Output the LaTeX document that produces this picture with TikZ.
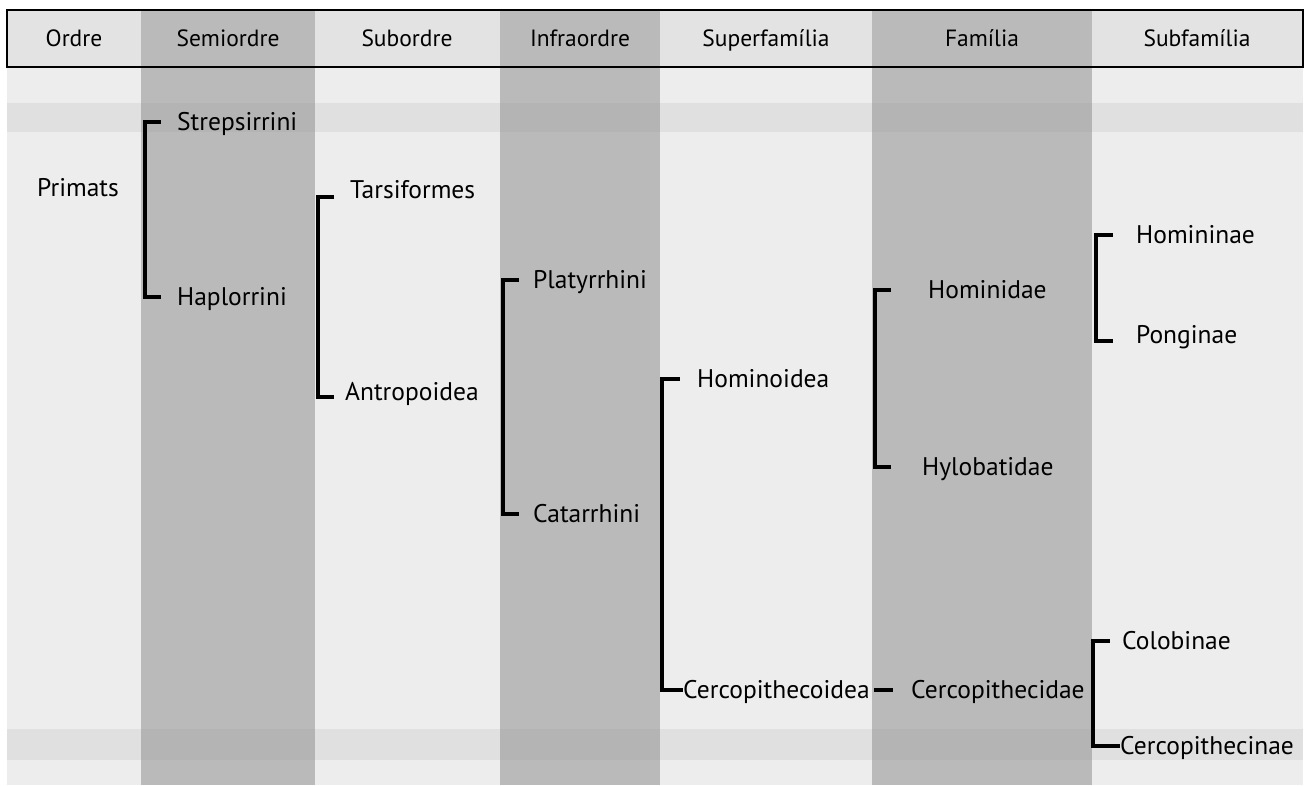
\documentclass[tikz,border=0pt]{standalone}
\usepackage{fontspec}
\setmainfont{PT Sans}
\begin{document}
\begin{tikzpicture}[x=1pt,y=-1pt,
  lab/.style={anchor=west,inner sep=0pt,text height=17pt,text depth=0pt,font=\fontsize{25.5}{28}\selectfont},
  hdr/.style={anchor=center,inner sep=0pt,text height=16pt,text depth=0pt,font=\fontsize{23.5}{26}\selectfont},
  br/.style={line width=4pt,line join=miter,line cap=butt},
  bandfill/.style={fill={rgb,255:red,149;green,149;blue,149},fill opacity=0.137}]
\definecolor{bodyL}{HTML}{EDEDED}
\definecolor{bodyD}{HTML}{BABABA}
\definecolor{headL}{HTML}{E3E3E3}
\useasboundingbox (0,0) rectangle (1310,785);
\fill[white] (0,0) rectangle (1310,785);
% body columns
\fill[bodyL] (7,67) rectangle (1303,785);
\foreach \a/\b in {141/315,500/660,872/1092}{\fill[bodyD] (\a,67) rectangle (\b,785);}
% bands
\fill[bandfill] (7,103) rectangle (1303,132);
\fill[bandfill] (7,729) rectangle (1303,760);
% header
\fill[headL] (7,10) rectangle (1303,67);
\foreach \a/\b in {141/315,500/660,872/1092}{\fill[bodyD] (\a,10) rectangle (\b,67);}
\draw[line width=2pt] (7,10) rectangle (1303,67);
\node[hdr] (h1) at (74,38) {Ordre};
\node[hdr] (h2) at (228,38) {Semiordre};
\node[hdr] (h3) at (407,38) {Subordre};
\node[hdr] (h4) at (580,38) {Infraordre};
\node[hdr] (h5) at (766,38) {Superfamília};
\node[hdr] (h6) at (982,38) {Família};
\node[hdr] (h7) at (1197,38) {Subfamília};
% taxa
\node[lab] (prim) at (37,188) {Primats};
\node[lab] (strep) at (177,122) {Strepsirrini};
\node[lab] (hap) at (177,297) {Haplorrini};
\node[lab] (tars) at (350,190) {Tarsiformes};
\node[lab] (antr) at (345,392) {Antropoidea};
\node[lab] (platy) at (533,280) {Platyrrhini};
\node[lab] (catar) at (533,514) {Catarrhini};
\node[lab] (homoid) at (697,379) {Hominoidea};
\node[lab] (cercoid) at (683,690) {Cercopithecoidea};
\node[lab] (homid) at (928,290) {Hominidae};
\node[lab] (hylob) at (922,467) {Hylobatidae};
\node[lab] (cercid) at (911,690) {Cercopithecidae};
\node[lab] (homin) at (1136,235) {Homininae};
\node[lab] (pong) at (1136,335) {Ponginae};
\node[lab] (colob) at (1122,641) {Colobinae};
\node[lab] (cercin) at (1120,746) {Cercopithecinae};
% bracket x levels
\coordinate (b1) at (145,0); \coordinate (t1) at (161,0);
\coordinate (b2) at (318,0); \coordinate (t2) at (334,0);
\coordinate (b3) at (503,0); \coordinate (t3) at (519,0);
\coordinate (b4) at (662,0); \coordinate (t4) at (680,0);
\coordinate (d1) at (874,0); \coordinate (d2) at (893,0);
\coordinate (b5) at (875,0); \coordinate (t5) at (891,0);
\coordinate (b6) at (1096,0); \coordinate (t6) at (1113,0);
\coordinate (b7) at (1093,0); \coordinate (t7) at (1110,0);
\path ([yshift=-7pt]tars.west) coordinate (tarsT);
\path ([yshift=-5pt]antr.west) coordinate (antrT);
\path ([yshift=-6pt]pong.west) coordinate (pongT);
% brackets
\draw[br] (strep.west -| t1) -- (strep.west -| b1) -- (hap.west -| b1) -- (hap.west -| t1);
\draw[br] (tarsT -| t2) -- (tarsT -| b2) -- (antrT -| b2) -- (antrT -| t2);
\draw[br] (platy.west -| t3) -- (platy.west -| b3) -- (catar.west -| b3) -- (catar.west -| t3);
\draw[br] (homoid.west -| t4) -- (homoid.west -| b4) -- (cercoid.west -| b4) -- (cercoid.west);
\draw[br] (cercid.west -| d1) -- (cercid.west -| d2);
\draw[br] (homid.west -| t5) -- (homid.west -| b5) -- (hylob.west -| b5) -- (hylob.west -| t5);
\draw[br] (homin.west -| t6) -- (homin.west -| b6) -- (pongT -| b6) -- (pongT -| t6);
\draw[br] (colob.west -| t7) -- (colob.west -| b7) -- (cercin.west -| b7) -- (cercin.west);
\end{tikzpicture}
\end{document}
